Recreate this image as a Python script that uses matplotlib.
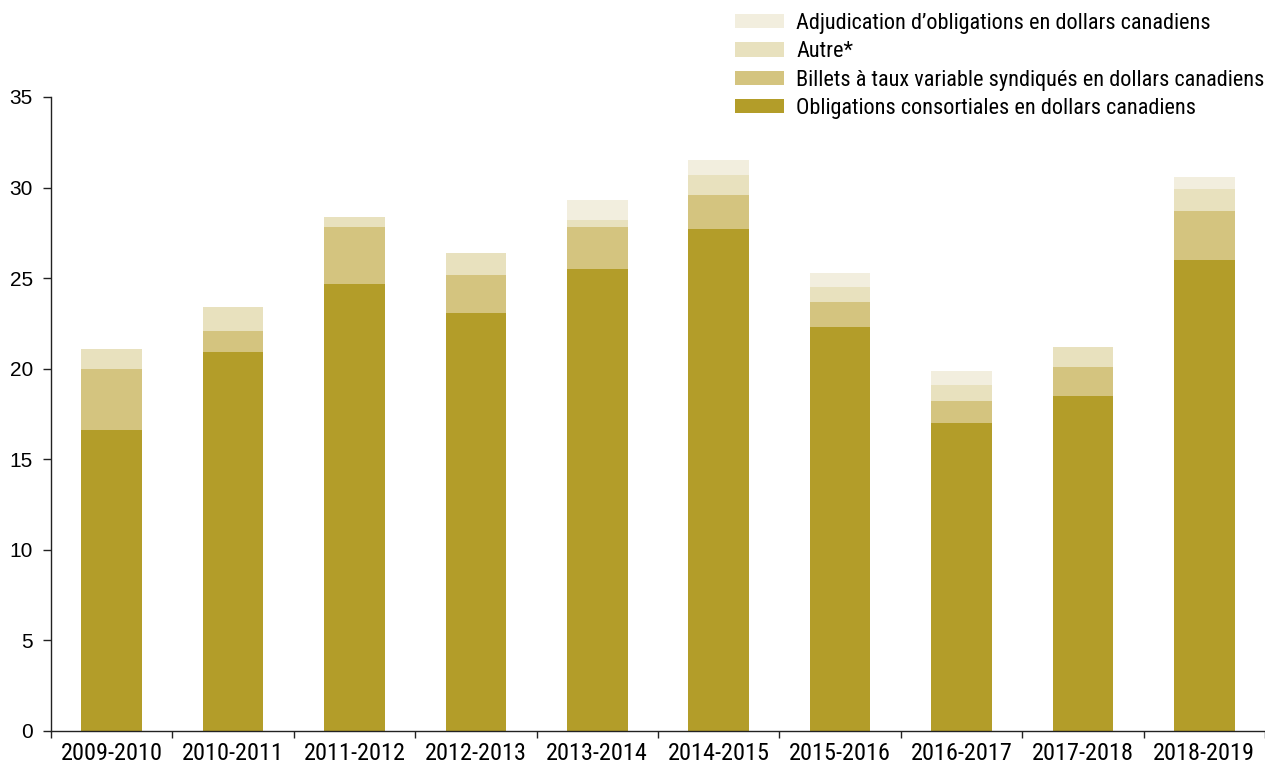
import matplotlib
matplotlib.use("Agg")
import matplotlib.pyplot as plt
import numpy as np

# Fiscal years and issuance (billions of dollars) by type
years = ["2009-2010", "2010-2011", "2011-2012", "2012-2013", "2013-2014",
         "2014-2015", "2015-2016", "2016-2017", "2017-2018", "2018-2019"]
obligations_consortiales = [16.6, 20.9, 24.7, 23.1, 25.5, 27.7, 22.3, 17.0, 18.5, 26.0]
billets_taux_variable = [3.4, 1.2, 3.1, 2.1, 2.3, 1.9, 1.4, 1.2, 1.6, 2.7]
autre = [1.1, 1.3, 0.6, 1.2, 0.4, 1.1, 0.8, 0.9, 1.1, 1.2]
adjudication = [0.0, 0.0, 0.0, 0.0, 1.1, 0.8, 0.8, 0.8, 0.0, 0.7]

series_labels = ["Obligations consortiales en dollars canadiens",
                 "Billets à taux variable syndiqués en dollars canadiens",
                 "Autre*",
                 "Adjudication d\u2019obligations en dollars canadiens"]
colors = ["#b39d29", "#d4c47f", "#e8e1be", "#f2eede"]

narrow = ["Roboto Condensed", "DejaVu Sans"]
plain = ["Liberation Sans", "DejaVu Sans"]
plt.rcParams["font.family"] = narrow

fig = plt.figure(figsize=(12.65, 7.63), dpi=100)
ax = fig.add_axes([51 / 1265, 32 / 763, 1214 / 1265, 634 / 763])

x = np.arange(len(years))
bottom = np.zeros(len(years))
handles = []
for vals, col, lab in zip([obligations_consortiales, billets_taux_variable, autre, adjudication],
                          colors, series_labels):
    h = ax.bar(x, vals, width=0.5, bottom=bottom, color=col, label=lab, linewidth=0)
    handles.append(h)
    bottom += np.array(vals)

ax.set_xlim(-0.5, len(years) - 0.5)
ax.set_ylim(0, 35)
ax.set_yticks(np.arange(0, 36, 5))
ax.set_yticklabels([str(v) for v in range(0, 36, 5)], family=plain, fontsize=15)
ax.set_xticks(x)
ax.set_xticklabels(years, fontsize=17.5)
ax.set_xticks(np.arange(-0.5, len(years), 1.0), minor=True)
ax.tick_params(axis="x", which="major", length=0, pad=8)
ax.tick_params(axis="x", which="minor", length=5, width=1, direction="out", color="#222222")
ax.tick_params(axis="y", length=6, width=1, direction="out", pad=7, color="#222222")

for side in ["top", "right"]:
    ax.spines[side].set_visible(False)
for side in ["left", "bottom"]:
    ax.spines[side].set_linewidth(1)
    ax.spines[side].set_color("#222222")

fig.legend(handles[::-1], series_labels[::-1], loc="upper left",
           bbox_to_anchor=(735 / 1265, 1 - 13 / 763), frameon=False,
           fontsize=16, handlelength=2.2, handleheight=0.63,
           labelspacing=0.33, handletextpad=0.55, borderaxespad=0, borderpad=0)

fig.savefig("out.png", dpi=100)
